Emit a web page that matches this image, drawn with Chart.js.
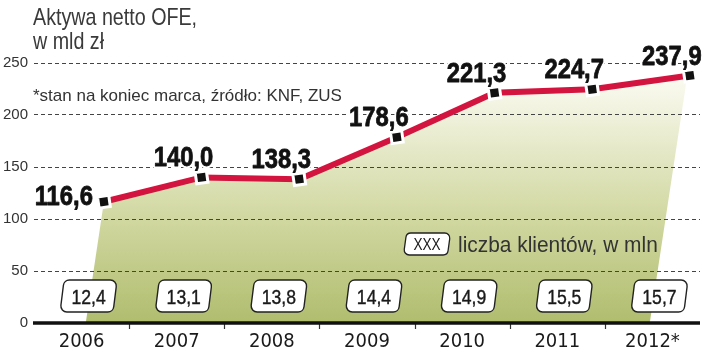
<!DOCTYPE html>
<html><head><meta charset="utf-8">
<script src="https://cdn.jsdelivr.net/npm/chart.js@4.4.1/dist/chart.umd.min.js"></script>
<style>html,body{margin:0;padding:0;background:#fff}#wrap{width:720px;height:354px;position:relative}</style>
</head><body><div id="wrap"><canvas id="c"></canvas></div>
<script>
const years = ['2006','2007','2008','2009','2010','2011','2012*'];
const assets = [116.6, 140.0, 138.3, 178.6, 221.3, 224.7, 237.9];
const clients = [12.4, 13.1, 13.8, 14.4, 14.9, 15.5, 15.7];
const yTicks = [0, 50, 100, 150, 200, 250];
const titleLines = ['Aktywa netto OFE,', 'w mld zł'];
const noteText = '*stan na koniec marca, źródło: KNF, ZUS';
const legendSample = 'XXX';
const legendText = 'liczba klientów, w mln';

const COND = '"DejaVu Sans Condensed", sans-serif';
const LIB = '"Liberation Sans", Arial, sans-serif';
const REG = '"Liberation Sans", "DejaVu Sans", sans-serif';
const fmt = v => v.toFixed(1).replace('.', ',');

function txt(ctx, s, x, y, font, sx, align, base, color, halo, embolden) {
  ctx.save();
  ctx.translate(x, y);
  ctx.scale(sx, 1);
  ctx.font = font;
  ctx.textAlign = align;
  ctx.textBaseline = base;
  ctx.lineJoin = 'round';
  if (halo) {
    ctx.strokeStyle = '#fff';
    ctx.lineWidth = halo;
    ctx.strokeText(s, 0, 0);
  }
  ctx.fillStyle = color;
  ctx.fillText(s, 0, 0);
  if (embolden) {
    ctx.strokeStyle = color;
    ctx.lineWidth = embolden;
    ctx.strokeText(s, 0, 0);
  }
  ctx.restore();
}

function skewBox(ctx, cx, cy, w, h, s, r) {
  const t = cy - h / 2, b = cy + h / 2;
  const TL = [cx - w / 2 + s / 2, t], TR = [cx + w / 2 + s / 2, t];
  const BR = [cx + w / 2 - s / 2, b], BL = [cx - w / 2 - s / 2, b];
  ctx.beginPath();
  ctx.moveTo((TL[0] + TR[0]) / 2, t);
  ctx.arcTo(TR[0], TR[1], BR[0], BR[1], r);
  ctx.arcTo(BR[0], BR[1], BL[0], BL[1], r);
  ctx.arcTo(BL[0], BL[1], TL[0], TL[1], r);
  ctx.arcTo(TL[0], TL[1], TR[0], TR[1], r);
  ctx.closePath();
}

const deco = {
  id: 'deco',
  beforeDraw(chart) {
    const ctx = chart.ctx, y = chart.scales.y;
    const pts = chart.getDatasetMeta(0).data;
    const y0 = y.getPixelForValue(0);
    const slant = 0.15;
    const first = pts[0], last = pts[pts.length - 1];
    ctx.save();
    const g = ctx.createLinearGradient(0, y0, 0, last.y);
    g.addColorStop(0, '#b0bd6e');
    g.addColorStop(0.45, '#d3d9a4');
    g.addColorStop(1, '#fbfbf2');
    ctx.fillStyle = g;
    ctx.beginPath();
    ctx.moveTo(first.x - slant * (y0 - first.y), y0);
    pts.forEach(p => ctx.lineTo(p.x, p.y));
    ctx.lineTo(last.x - 3, last.y + 3);
    ctx.lineTo(last.x - 3 - slant * (y0 - last.y), y0);
    ctx.closePath();
    ctx.fill();
    ctx.restore();
  },
  afterDatasetsDraw(chart) {
    const ctx = chart.ctx, x = chart.scales.x, y = chart.scales.y, ca = chart.chartArea;
    const y0 = y.getPixelForValue(0);
    ctx.save();
    // tick marks
    ctx.strokeStyle = '#333'; ctx.lineWidth = 1.2;
    for (let i = 1; i < years.length; i++) {
      const px = Math.round(x.getPixelForValue(i)) + 0.5;
      ctx.beginPath(); ctx.moveTo(px, y0); ctx.lineTo(px, y0 + 6); ctx.stroke();
    }
    // zero axis
    ctx.strokeStyle = '#111'; ctx.lineWidth = 3.5;
    ctx.beginPath(); ctx.moveTo(ca.left - 1, y0); ctx.lineTo(ca.right, y0); ctx.stroke();

    // client boxes
    clients.forEach((v, i) => {
      const cx = x.getPixelForValue(i + 0.5) + 7;
      const cy = y0 - 27;
      skewBox(ctx, cx, cy, 53, 32, 4, 6);
      ctx.fillStyle = '#fff'; ctx.fill();
      ctx.strokeStyle = '#222'; ctx.lineWidth = 1.4; ctx.stroke();
      txt(ctx, fmt(v), cx, cy + 8, '20px ' + LIB, 0.88, 'center', 'alphabetic', '#1a1a1a', 0, 0.4);
    });

    // value labels
    const pts = chart.getDatasetMeta(0).data;
    pts.forEach((p, i) => {
      let tx, ty, al;
      if (i === 0) { al = 'right'; tx = p.x - 11; ty = p.y + 3; }
      else { al = 'center'; tx = p.x - 18; ty = p.y - 11; }
      txt(ctx, fmt(assets[i]), tx, ty, 'bold 28px ' + LIB, 0.85, al, 'alphabetic', '#111', 5, 0.8);
    });

    // legend
    skewBox(ctx, 427, 244, 44, 22, 3, 5);
    ctx.fillStyle = '#fff'; ctx.fill();
    ctx.strokeStyle = '#222'; ctx.lineWidth = 1.3; ctx.stroke();
    txt(ctx, legendSample, 427, 250, '16px ' + LIB, 0.85, 'center', 'alphabetic', '#1a1a1a');
    txt(ctx, legendText, 458, 252, '22px ' + LIB, 0.95, 'left', 'alphabetic', '#333');

    // title + note
    txt(ctx, titleLines[0], 33, 25, '24px ' + LIB, 0.82, 'left', 'alphabetic', '#3a3a3a');
    txt(ctx, titleLines[1], 33, 49, '24px ' + LIB, 0.82, 'left', 'alphabetic', '#3a3a3a');
    txt(ctx, noteText, 33, 101, '17px ' + LIB, 1.0, 'left', 'alphabetic', '#333');
    ctx.restore();
  }
};

new Chart(document.getElementById('c'), {
  type: 'line',
  data: {
    datasets: [{
      data: assets.map((v, i) => ({ x: i, y: v })),
      xAxisID: 'xp',
      borderColor: '#d3143e',
      borderWidth: 6,
      tension: 0,
      fill: false,
      clip: false,
      pointStyle: 'rect',
      pointRotation: -8,
      pointRadius: 8,
      pointBackgroundColor: '#111',
      pointBorderColor: '#fff',
      pointBorderWidth: 3
    }]
  },
  options: {
    responsive: true,
    maintainAspectRatio: false,
    animation: false,
    events: [],
    layout: { padding: { top: 63, right: 20, left: 0, bottom: 0 } },
    plugins: { legend: { display: false }, tooltip: { enabled: false } },
    scales: {
      x: {
        type: 'linear', min: 0, max: years.length,
        afterBuildTicks: s => { s.ticks = years.map((_, i) => ({ value: i + 0.5 })); },
        afterFit: s => { s.height = 31; },
        grid: { display: false, drawTicks: false },
        border: { display: false },
        ticks: {
          padding: 7,
          autoSkip: false,
          maxRotation: 0,
          color: '#1a1a1a',
          font: { family: COND, size: 20 },
          callback: v => years[Math.floor(v)]
        }
      },
      xp: {
        type: 'linear', display: false, min: -0.716, max: 6.104
      },
      y: {
        min: 0, max: 250,
        afterBuildTicks: s => { s.ticks = yTicks.map(v => ({ value: v })); },
        afterFit: s => { s.width = 34; },
        grid: {
          drawTicks: false,
          color: c => c.tick && c.tick.value === 0 ? 'rgba(0,0,0,0)' : '#444',
          lineWidth: 1
        },
        border: { display: false, dash: [4, 3] },
        ticks: {
          padding: 6,
          color: '#333',
          font: { family: REG, size: 15 }
        }
      }
    }
  },
  plugins: [deco]
});
</script>
</body></html>
